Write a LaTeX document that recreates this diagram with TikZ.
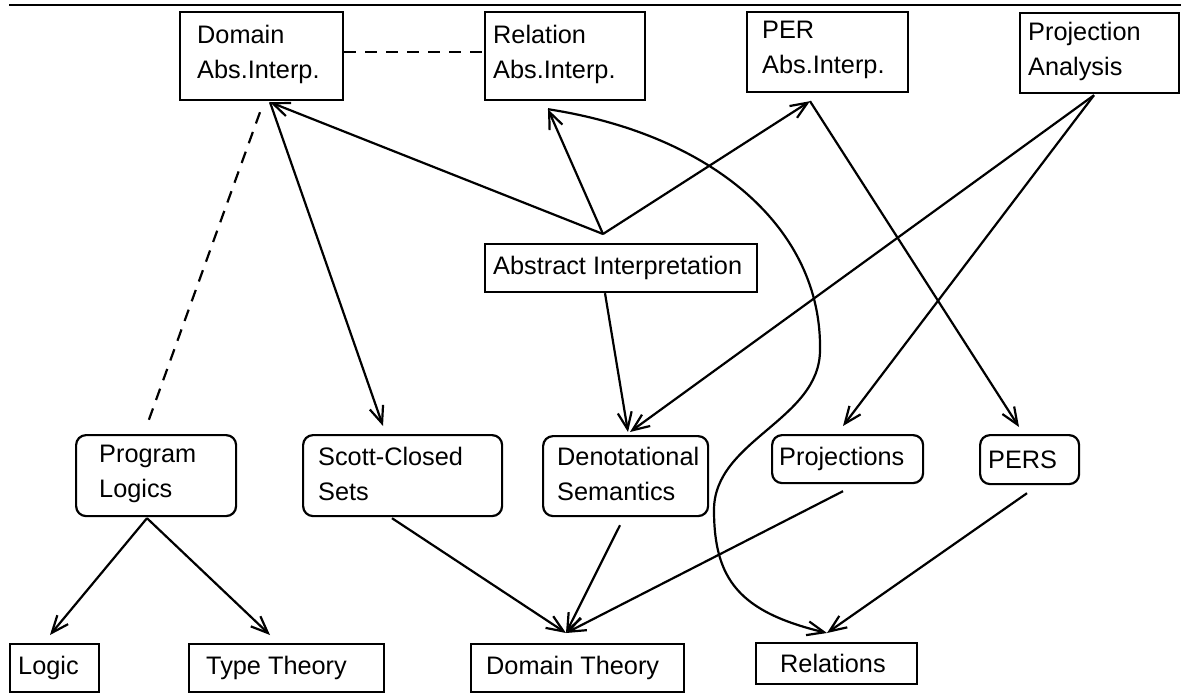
\documentclass[tikz,border=0pt]{standalone}
\usepackage{fontspec}
\setmainfont{Liberation Sans}
\usetikzlibrary{arrows.meta}
\begin{document}
\begin{tikzpicture}[x=1pt,y=1pt,
  box/.style={draw, rectangle, line width=2.2pt, anchor=north west, inner sep=0pt},
  rbox/.style={box, rounded corners=10pt},
  lbl/.style={anchor=west, inner sep=0pt, align=left, font=\fontsize{25.3}{35}\selectfont},
  lbltwo/.style={lbl, yshift=2pt},
  arr/.style={line width=2.2pt, -{Straight Barb[length=17pt,width=14pt]}},
  dsh/.style={line width=2.2pt, dash pattern=on 12pt off 9pt},
]
\useasboundingbox (0,0) rectangle (1181,-695);
% top rule
\coordinate (rl) at (9,-5);
\coordinate (rr) at (1181,-5);
\draw[line width=2.4pt] (rl) -- (rr);

% top row
\node[box, minimum width=163pt, minimum height=88pt] (dom) at (179,-11) {};
\node[lbltwo] (domt) at ([xshift=18pt]dom.west) {Domain\\Abs.Interp.};
\node[box, minimum width=160pt, minimum height=88pt] (rel) at (484,-11) {};
\node[lbltwo] (relt) at ([xshift=9pt]rel.west) {Relation\\Abs.Interp.};
\node[box, minimum width=161pt, minimum height=80pt] (per) at (746,-11) {};
\node[lbltwo] (pert) at ([xshift=16pt]per.west) {PER\\Abs.Interp.};
\node[box, minimum width=159pt, minimum height=80pt] (proj) at (1019,-12) {};
\node[lbltwo] (projt) at ([xshift=9pt]proj.west) {Projection\\Analysis};

% middle
\node[box, minimum width=272pt, minimum height=48pt] (absint) at (484,-243) {};
\node[lbl] (absintt) at ([xshift=9pt]absint.west) {Abstract Interpretation};

% rounded row
\node[rbox, minimum width=160pt, minimum height=81pt] (plog) at (75,-434) {};
\node[lbltwo] (plogt) at ([xshift=24pt]plog.west) {Program\\Logics};
\node[rbox, minimum width=199pt, minimum height=81pt] (scott) at (302,-434) {};
\node[lbltwo] (scottt) at ([xshift=16pt]scott.west) {Scott-Closed\\Sets};
\node[rbox, minimum width=165pt, minimum height=80pt] (den) at (542,-435) {};
\node[lbltwo] (dent) at ([xshift=15pt]den.west) {Denotational\\Semantics};
\node[rbox, minimum width=151pt, minimum height=48pt] (projs) at (771,-434) {};
\node[lbl] (projst) at ([xshift=8pt]projs.west) {Projections};
\node[rbox, minimum width=99pt, minimum height=49pt] (pers) at (979,-434) {};
\node[lbl] (perst) at ([xshift=9pt]pers.west) {PERS};

% bottom row
\node[box, minimum width=89pt, minimum height=48pt] (logic) at (9,-643) {};
\node[lbl] (logict) at ([xshift=9pt]logic.west) {Logic};
\node[box, minimum width=195pt, minimum height=48pt] (tt) at (188,-643) {};
\node[lbl] (ttt) at ([xshift=18pt]tt.west) {Type Theory};
\node[box, minimum width=213pt, minimum height=48pt] (dt) at (470,-643) {};
\node[lbl] (dtt) at ([xshift=16pt]dt.west) {Domain Theory};
\node[box, minimum width=161pt, minimum height=41pt] (relations) at (755,-642) {};
\node[lbl] (relationst) at ([xshift=25pt]relations.west) {Relations};

% helper points
\coordinate (aiapex) at ([shift={(119,9)}]absint.north west);
\coordinate (pjapex) at ([shift={(75,-1)}]proj.south west);
\coordinate (dttip) at ([shift={(96,10)}]dt.north west);
\coordinate (reltip) at ([shift={(72,9)}]relations.north west);
\coordinate (plogfoot) at ([shift={(72,-1)}]plog.south west);

% dashed links
\draw[dsh] ([yshift=4pt]dom.east) -- ([yshift=4pt]rel.west);
\draw[dsh] ([shift={(81,-11)}]dom.south west) -- ([shift={(72,9)}]plog.north west);

% arrows
\draw[arr] (aiapex) -- ([shift={(91,-1)}]dom.south west);
\draw[arr] (aiapex) -- ([shift={(64,-8)}]rel.south west);
\draw[arr] (aiapex) -- ([shift={(64,-8)}]per.south west);
\draw[arr] ([shift={(91,-1)}]dom.south west) -- ([shift={(81,8)}]scott.north west);
\draw[arr] ([shift={(121,0)}]absint.south west) -- ([shift={(86,3)}]den.north west);
\draw[arr] (pjapex) -- ([shift={(88,3)}]den.north west);
\draw[arr] (pjapex) -- ([shift={(72,8)}]projs.north west);
\draw[arr] ([shift={(64,-8)}]per.south west) -- ([shift={(40,7)}]pers.north west);
\draw[arr] ([shift={(64,-8)}]rel.south west) .. controls (715,-135) and (822,-230) .. (820,-350)
   .. controls (820,-420) and (714,-440) .. (714,-510)
   .. controls (714,-580) and (740,-612) .. (reltip);
\draw[arr] ([shift={(48,-8)}]pers.south west) -- (reltip);
\draw[arr] ([shift={(72,-7)}]projs.south west) -- (dttip);
\draw[arr] ([shift={(78,-8)}]den.south west) -- (dttip);
\draw[arr] ([shift={(90,-1)}]scott.south west) -- (dttip);
\draw[arr] (plogfoot) -- ([shift={(41,8)}]logic.north west);
\draw[arr] (plogfoot) -- ([shift={(82,8)}]tt.north west);
\end{tikzpicture}
\end{document}
